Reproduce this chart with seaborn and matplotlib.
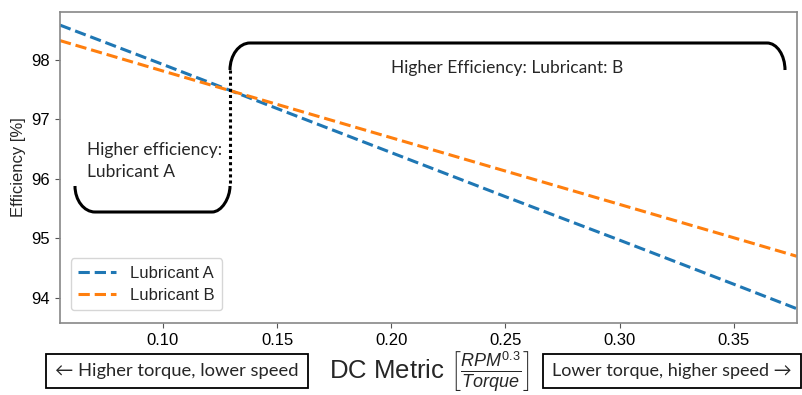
import numpy as np
import pandas as pd
import matplotlib
matplotlib.use("Agg")
import matplotlib.pyplot as plt
from matplotlib.path import Path
from matplotlib.patches import PathPatch
import seaborn as sns

# ---- data ----
dc_metric = [0.055, 0.10, 0.15, 0.20, 0.25, 0.30, 0.35, 0.3775]
eff_a = [98.58, 97.92, 97.18, 96.44, 95.70, 94.97, 94.23, 93.82]
eff_b = [98.32, 97.81, 97.25, 96.69, 96.13, 95.57, 95.01, 94.70]
series_names = ["Lubricant A", "Lubricant B"]
x_ticks = [0.10, 0.15, 0.20, 0.25, 0.30, 0.35]
y_ticks = [94, 95, 96, 97, 98]

df = pd.DataFrame({
    "DC": dc_metric * 2,
    "Efficiency": eff_a + eff_b,
    "Lubricant": [series_names[0]] * len(dc_metric) + [series_names[1]] * len(dc_metric),
})

sns.set_style("ticks")
plt.rcParams["font.family"] = ["Liberation Sans", "DejaVu Sans"]
plt.rcParams["mathtext.fontset"] = "custom"
plt.rcParams["mathtext.rm"] = "Liberation Sans"
plt.rcParams["mathtext.it"] = "Liberation Sans:italic"
plt.rcParams["mathtext.bf"] = "Liberation Sans:bold"

W, H = 803, 395
fig = plt.figure(figsize=(W / 100, H / 100), dpi=100)
ax = fig.add_axes([60 / W, 1 - 323 / H, 737 / W, 311 / H])

sns.lineplot(data=df, x="DC", y="Efficiency", hue="Lubricant",
             palette=["#1f77b4", "#ff7f0e"], ax=ax, linewidth=2.2)
for ln in ax.get_lines():
    ln.set_linestyle((0, (3.7, 1.6)))

ax.set_xlim(0.055, 0.3776)
ax.set_ylim(93.58, 98.80)
ax.set_xticks(x_ticks)
ax.set_xticklabels([f"{v:.2f}" for v in x_ticks], fontsize=12)
ax.set_yticks(y_ticks)
ax.set_yticklabels([str(v) for v in y_ticks], fontsize=12)
ax.tick_params(colors="black", color="#555555", length=3.5, width=0.8)
for s in ax.spines.values():
    s.set_color("#888888")
    s.set_linewidth(1.2)

ax.set_ylabel("Efficiency [%]", fontsize=12, labelpad=4)
ax.set_xlabel("")

leg = ax.legend(loc="lower left", fontsize=12, frameon=True, handlelength=2.3,
                borderpad=0.45, labelspacing=0.4, bbox_to_anchor=(0.003, 0.015))
leg.get_frame().set_edgecolor("#cccccc")
for h in leg.get_lines():
    h.set_linestyle((0, (3.7, 1.6)))
    h.set_linewidth(2.2)

# ---- annotation shapes, positioned in figure pixels ----
def p(x, y):
    return (x / W, 1 - y / H)

tr = fig.transFigure
k = 0.55  # bezier handle ratio
codes = [Path.MOVETO, Path.CURVE4, Path.CURVE4, Path.CURVE4,
         Path.LINETO, Path.CURVE4, Path.CURVE4, Path.CURVE4]

# left bracket
lb = [p(75, 186), p(75, 186 + 26 * k), p(95 - 20 * k, 212), p(95, 212),
      p(212, 212), p(212 + 18 * k, 212), p(230, 212 - 26 * k), p(230, 186)]
fig.add_artist(PathPatch(Path(lb, codes), transform=tr, fill=False,
                         edgecolor="black", linewidth=2.2))

# right bracket
rb = [p(230, 70), p(230, 70 - 27 * k), p(250 - 20 * k, 43), p(250, 43),
      p(767, 43), p(767 + 18 * k, 43), p(785, 70 - 27 * k), p(785, 70)]
fig.add_artist(PathPatch(Path(rb, codes), transform=tr, fill=False,
                         edgecolor="black", linewidth=2.2))

# dotted divider
fig.add_artist(plt.Line2D([230 / W, 230 / W], [1 - 70 / H, 1 - 186 / H],
                          transform=tr, color="black", linewidth=2.2,
                          linestyle=(0, (1, 1))))

txt_font = ["Lato", "DejaVu Sans"]
fig.text(87 / W, 1 - 161 / H, "Higher efficiency:\nLubricant A", fontsize=12.5,
         family=txt_font, va="center", ha="left", linespacing=1.45)
fig.text(p(507, 0)[0], 1 - 68 / H, "Higher Efficiency: Lubricant: B", fontsize=12.5,
         family=txt_font, va="center", ha="center")

# x label and bottom boxes
fig.text(430 / W, 1 - 371 / H,
         r"DC Metric $\left[\frac{RPM^{0.3}}{Torque}\right]$",
         fontsize=18.5, ha="center", va="center")
box = dict(boxstyle="square,pad=0.5", facecolor="white", edgecolor="black", linewidth=1.3)
fig.text(177 / W, 1 - 371 / H, "\u2190 Higher torque, lower speed", fontsize=13.2,
         family=txt_font, ha="center", va="center", bbox=box)
fig.text(672 / W, 1 - 371 / H, "Lower torque, higher speed \u2192", fontsize=13,
         family=txt_font, ha="center", va="center", bbox=box)

fig.savefig("out.png", dpi=100)
